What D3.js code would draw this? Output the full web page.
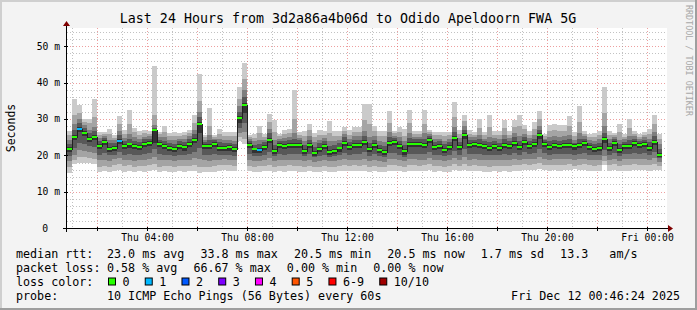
<!DOCTYPE html>
<html lang="en">
<head>
<meta charset="UTF-8">
<title>Last 24 Hours from 3d2a86a4b06d to Odido Apeldoorn FWA 5G</title>
<script src="https://d3js.org/d3.v7.min.js"></script>
<style>
  body { margin: 0; background: #f3f3f3; }
  svg { display: block; font-family: "DejaVu Sans Mono", monospace; }
  .grid-minor { stroke: rgba(143,143,143,0.55); stroke-width: 1; stroke-dasharray: 1,2; }
  .grid-major { stroke: rgba(222,80,80,0.55); stroke-width: 1; stroke-dasharray: 1,2; }
  .axis-line { stroke: #000; stroke-width: 1; }
  .tick-label { font-size: 9.7px; fill: #000; }
  .legend { font-size: 11.7px; fill: #000; white-space: pre; }
</style>
</head>
<body>
<svg width="697" height="310"></svg>
<script>
// median rtt per 12 minute step (ms)
const median = [
  21.7, 25.1, 27.3, 26.2, 24.5, 25.0, 22.5, 23.7, 21.8, 22.1,
  24.0, 22.5, 23.0, 22.5, 22.3, 23.1, 23.4, 26.9, 23.1, 22.5,
  22.0, 21.7, 22.5, 22.2, 23.1, 24.2, 28.7, 22.5, 22.5, 23.1,
  22.1, 22.1, 22.2, 21.7, 30.3, 33.9, 22.9, 21.6, 21.5, 22.3,
  24.3, 21.3, 22.9, 22.6, 22.9, 22.9, 22.9, 21.3, 22.8, 20.7,
  21.8, 22.6, 21.0, 21.3, 21.9, 23.5, 22.3, 22.9, 22.9, 23.7,
  21.8, 22.8, 21.4, 21.0, 23.4, 23.6, 22.5, 21.1, 23.1, 23.1,
  23.1, 22.9, 24.2, 22.3, 22.5, 21.5, 22.3, 24.7, 22.3, 25.5,
  22.9, 23.1, 22.8, 22.5, 22.1, 22.5, 22.1, 22.8, 22.5, 23.4,
  22.3, 23.6, 22.5, 23.1, 25.5, 23.1, 22.3, 22.8, 22.5, 22.8,
  22.8, 22.5, 22.8, 23.4, 22.3, 21.8, 22.1, 24.6, 22.1, 23.4,
  21.4, 22.5, 22.5, 23.4, 22.8, 23.1, 22.1, 23.7, 20.2
];

// lost pings (out of 10) per step
const lossCount = [
  0, 0, 1, 0, 0, 0, 0, 0, 0, 0,
  1, 0, 0, 0, 0, 0, 0, 0, 0, 0,
  0, 0, 0, 0, 0, 0, 0, 0, 0, 0,
  0, 0, 0, 0, 0, 0, 0, 0, 1, 0,
  0, 0, 0, 0, 0, 0, 0, 0, 0, 0,
  0, 0, 0, 0, 0, 0, 0, 0, 0, 0,
  0, 0, 0, 0, 0, 0, 0, 0, 0, 0,
  0, 0, 0, 0, 0, 0, 0, 0, 0, 0,
  0, 0, 0, 0, 0, 0, 0, 0, 0, 0,
  0, 0, 0, 0, 0, 0, 0, 0, 0, 0,
  0, 0, 0, 0, 0, 0, 0, 0, 0, 0,
  0, 0, 0, 0, 0, 0, 0, 0, 0
];

// sorted ping times per step (ms), used for the smoke
const pings = [
  [15.2,16.8,18.4,19.8,20.8,22.2,23.2,24.2,25.6,26.6],
  [17.6,18.8,20.2,22.0,24.2,25.6,27.0,28.5,31.0,35.4],
  [18.0,19.6,21.5,23.5,26.3,27.8,29.0,30.0,31.5,33.8],
  [18.0,19.4,21.2,23.2,25.3,26.7,27.6,28.4,29.2,29.9],
  [17.8,19.2,20.8,22.5,23.6,25.0,26.0,27.0,28.8,29.9],
  [17.5,19.0,20.6,22.4,24.1,25.5,26.6,27.8,30.5,35.4],
  [15.4,16.9,18.6,20.2,21.6,23.0,23.9,24.8,25.6,26.5],
  [15.6,17.1,18.8,20.6,22.8,24.2,24.8,25.3,25.9,26.5],
  [15.3,16.8,18.5,20.0,20.9,22.3,23.3,24.3,25.8,27.2],
  [15.8,17.2,18.9,20.2,21.2,22.6,23.4,24.1,24.8,25.5],
  [16.0,17.6,19.2,21.0,23.1,24.5,25.6,26.8,28.6,30.8],
  [15.5,17.0,18.6,20.1,21.6,23.0,23.9,24.8,25.8,26.9],
  [15.6,17.2,18.8,20.4,22.1,23.5,24.6,25.8,28.5,32.4],
  [15.4,16.9,18.5,20.1,21.6,23.0,24.0,25.0,26.3,27.6],
  [15.6,17.0,18.7,20.1,21.4,22.8,23.7,24.6,25.6,26.6],
  [15.5,17.0,18.8,20.4,22.2,23.6,24.4,25.1,26.0,26.9],
  [15.7,17.2,18.9,20.6,22.5,23.9,24.6,25.2,25.9,26.6],
  [16.0,17.6,19.5,21.6,23.3,27.2,27.4,28.2,31.0,44.6],
  [15.4,16.9,18.6,20.3,22.2,23.6,24.3,25.0,25.8,26.5],
  [15.6,17.1,18.7,20.2,21.6,23.0,24.0,25.0,26.5,28.0],
  [15.5,17.0,18.6,20.0,21.1,22.5,23.4,24.3,25.2,26.2],
  [15.4,16.9,18.5,19.9,20.8,22.2,23.2,24.2,25.4,26.5],
  [15.6,17.1,18.7,20.2,21.6,23.0,23.8,24.6,25.4,26.2],
  [15.5,17.0,18.6,20.0,21.3,22.7,23.6,24.5,25.5,26.5],
  [15.6,17.1,18.8,20.4,22.2,23.6,24.4,25.2,26.0,26.9],
  [15.8,17.4,19.2,20.9,23.3,24.7,25.8,27.0,29.0,31.0],
  [15.0,16.8,19.0,22.0,26.0,29.2,30.5,32.0,35.0,42.3],
  [15.4,16.9,18.6,20.1,21.6,23.0,23.7,24.3,24.9,25.5],
  [15.3,16.8,18.5,20.1,21.6,23.0,24.2,25.5,28.0,32.9],
  [15.5,17.0,18.7,20.3,22.2,23.6,24.1,24.6,25.0,25.5],
  [15.8,17.2,18.8,20.1,21.2,22.6,23.6,24.6,25.9,27.2],
  [15.9,17.3,18.9,20.2,21.2,22.6,23.4,24.3,25.3,26.3],
  [15.8,17.2,18.8,20.1,21.3,22.7,23.5,24.3,25.3,26.3],
  [15.6,17.0,18.6,19.9,20.8,22.2,23.1,24.0,25.2,26.3],
  [24.0,25.0,26.2,27.5,29.0,30.8,32.0,33.5,35.5,38.8],
  [23.2,24.5,26.5,29.0,31.5,34.4,36.0,38.0,41.0,45.5],
  [15.6,17.1,18.7,20.3,22.0,23.4,23.9,24.4,25.0,25.5],
  [15.4,16.8,18.4,19.8,20.7,22.1,22.9,23.8,24.8,25.8],
  [15.5,17.0,18.5,19.8,20.6,22.0,23.0,24.2,26.0,28.0],
  [15.6,17.1,18.7,20.1,21.4,22.8,23.6,24.3,25.0,25.8],
  [15.8,17.4,19.2,21.0,23.4,24.8,26.0,27.2,29.2,31.3],
  [15.5,16.9,18.5,19.7,20.4,21.8,22.9,24.1,26.5,29.7],
  [15.6,17.1,18.8,20.3,22.0,23.4,24.0,24.6,25.2,25.8],
  [15.5,17.0,18.7,20.2,21.7,23.1,23.9,24.8,25.8,26.9],
  [15.7,17.2,18.8,20.3,22.0,23.4,24.2,25.0,26.0,27.1],
  [15.6,17.1,18.8,20.3,22.0,23.4,24.6,26.0,30.0,37.9],
  [15.5,17.0,18.7,20.3,22.0,23.4,24.1,24.8,25.6,26.5],
  [15.4,16.8,18.4,19.7,20.4,21.8,22.8,23.8,25.2,26.7],
  [15.6,17.1,18.8,20.3,21.9,23.3,24.3,25.3,26.9,28.6],
  [15.3,16.7,18.2,19.4,19.8,21.2,22.4,23.6,24.9,26.2],
  [15.5,16.9,18.5,19.9,20.9,22.3,23.3,24.3,25.6,26.9],
  [15.6,17.1,18.7,20.2,21.7,23.1,23.9,24.7,25.7,26.7],
  [15.4,16.8,18.3,19.6,20.1,21.5,22.6,23.8,26.2,29.4],
  [15.5,16.9,18.4,19.7,20.4,21.8,22.8,23.8,25.2,26.7],
  [15.6,17.0,18.6,20.0,21.0,22.4,23.3,24.2,25.4,26.7],
  [15.7,17.3,19.0,20.6,22.6,24.0,24.9,25.8,26.8,27.8],
  [15.6,17.1,18.7,20.1,21.4,22.8,23.7,24.6,25.7,26.9],
  [15.7,17.2,18.8,20.3,22.0,23.4,24.3,25.2,26.5,27.8],
  [15.6,17.1,18.8,20.3,22.0,23.4,24.3,25.2,26.4,27.7],
  [15.8,17.4,19.1,20.8,22.8,24.2,25.4,26.8,29.6,34.0],
  [15.5,16.9,18.5,19.9,20.9,22.3,23.5,25.0,28.5,34.1],
  [15.6,17.1,18.8,20.3,21.9,23.3,24.2,25.2,26.6,28.0],
  [15.4,16.8,18.4,19.7,20.5,21.9,22.9,23.9,25.3,26.7],
  [15.3,16.7,18.2,19.5,20.1,21.5,22.6,23.7,25.2,26.7],
  [15.7,17.3,19.0,20.6,22.5,23.9,25.0,26.3,28.8,32.1],
  [15.8,17.3,19.0,20.7,22.7,24.1,24.7,25.3,26.0,26.7],
  [15.6,17.1,18.7,20.2,21.6,23.0,24.0,25.0,26.4,27.8],
  [15.4,16.8,18.3,19.6,20.2,21.6,22.7,23.8,25.4,27.1],
  [15.6,17.2,18.9,20.4,22.2,23.6,24.8,26.2,28.8,32.4],
  [15.7,17.2,18.9,20.4,22.2,23.6,24.4,25.1,25.9,26.7],
  [15.6,17.1,18.8,20.4,22.2,23.6,24.4,25.1,25.9,26.7],
  [15.7,17.2,18.8,20.3,22.0,23.4,24.6,26.0,28.6,32.4],
  [15.9,17.5,19.2,21.0,23.3,24.7,25.3,25.8,26.3,26.9],
  [15.5,17.0,18.6,20.1,21.4,22.8,23.7,24.6,25.5,26.5],
  [15.6,17.1,18.7,20.2,21.6,23.0,23.8,24.6,25.5,26.5],
  [15.4,16.8,18.4,19.8,20.6,22.0,23.0,24.0,25.2,26.5],
  [15.5,17.0,18.6,20.1,21.4,22.8,23.7,24.6,25.5,26.5],
  [15.9,17.5,19.3,21.2,23.8,25.2,26.4,27.8,30.5,34.7],
  [15.6,17.1,18.7,20.1,21.4,22.8,23.7,24.7,25.8,26.9],
  [16.0,17.7,19.6,21.6,24.6,26.0,27.0,28.0,29.4,31.0],
  [15.6,17.1,18.8,20.3,22.0,23.4,24.2,25.0,25.9,26.9],
  [15.7,17.2,18.9,20.4,22.2,23.6,24.3,25.0,25.7,26.5],
  [15.6,17.1,18.8,20.3,21.9,23.3,24.4,25.6,27.6,29.9],
  [15.5,17.0,18.7,20.2,21.6,23.0,23.8,24.6,25.5,26.5],
  [15.5,16.9,18.6,20.0,21.2,22.6,23.7,25.0,27.8,31.0],
  [15.6,17.1,18.7,20.2,21.6,23.0,23.8,24.7,25.6,26.6],
  [15.5,17.0,18.6,20.0,21.2,22.6,23.5,24.5,25.6,26.7],
  [15.6,17.1,18.8,20.3,21.9,23.3,24.4,25.6,27.5,29.7],
  [15.5,17.0,18.7,20.2,21.6,23.0,23.8,24.7,25.7,26.7],
  [15.7,17.3,19.0,20.6,22.5,23.9,24.9,26.0,27.8,29.7],
  [15.8,17.2,18.8,20.2,21.4,22.8,23.9,25.2,28.0,31.0],
  [16.0,17.5,19.1,20.8,22.7,24.1,25.0,25.9,27.1,28.3],
  [15.9,17.3,18.9,20.3,21.6,23.0,23.8,24.7,25.7,26.7],
  [16.0,17.5,19.1,20.6,22.2,23.6,24.6,25.7,27.3,29.1],
  [16.3,17.8,19.6,21.6,24.6,26.0,27.0,28.0,30.0,32.1],
  [15.9,17.4,19.0,20.5,22.2,23.6,24.1,24.6,25.2,25.8],
  [15.8,17.2,18.8,20.2,21.4,22.8,23.8,24.9,26.6,28.3],
  [15.9,17.4,19.0,20.4,21.9,23.3,24.3,25.3,26.9,28.6],
  [15.8,17.3,18.9,20.3,21.6,23.0,24.0,25.0,26.6,28.3],
  [15.9,17.4,19.0,20.4,21.9,23.3,24.2,25.2,26.7,28.3],
  [16.0,17.5,19.0,20.4,21.9,23.3,24.4,25.6,28.0,30.8],
  [16.1,17.0,18.7,20.0,21.4,23.1,23.3,24.2,25.4,26.3],
  [15.9,17.4,19.0,20.4,21.9,23.3,24.6,26.0,29.2,33.6],
  [16.0,17.5,19.1,20.6,22.5,23.9,24.6,25.2,25.9,26.7],
  [15.8,17.2,18.8,20.2,21.4,22.8,23.5,24.2,25.0,25.8],
  [15.7,17.1,18.6,20.0,20.9,22.3,23.1,24.0,25.0,26.0],
  [15.8,17.2,18.8,20.1,21.2,22.6,23.5,24.4,25.5,26.7],
  [17.3,18.4,19.8,21.4,23.3,25.0,26.0,28.0,31.5,38.8],
  [15.8,17.2,18.8,20.1,21.2,22.6,23.5,24.4,25.5,26.7],
  [16.0,17.5,19.1,20.6,22.5,23.9,24.4,24.9,25.5,26.2],
  [15.6,17.0,18.5,19.8,20.5,21.9,23.0,24.2,26.3,28.6],
  [15.8,17.3,18.9,20.3,21.6,23.0,23.7,24.4,25.1,25.8],
  [15.8,17.3,18.9,20.3,21.6,23.0,24.1,25.3,27.5,29.9],
  [16.0,17.5,19.1,20.6,22.5,23.9,24.6,25.2,25.9,26.7],
  [15.9,17.4,19.0,20.4,21.9,23.3,23.9,24.5,25.1,25.8],
  [15.9,17.4,19.0,20.5,22.2,23.6,24.3,24.9,25.7,26.5],
  [15.8,17.2,18.8,20.1,21.2,22.6,23.6,24.6,25.8,27.1],
  [16.0,17.6,19.2,20.8,22.8,24.2,25.3,26.5,28.6,31.0],
  [15.9,17.0,18.2,19.2,19.6,20.7,21.8,23.0,24.4,25.8]
];

const yTicks = [0, 10, 20, 30, 40, 50];
const lossLabels = ["0", "1", "2", "3", "4", "5", "6-9", "10/10"];
const lossColors = ["#26ff00", "#00b8ff", "#0059ff", "#7e00ff", "#ff00ff", "#ff5500", "#ff0000", "#a10000"];
const smokeGreys = ["#cacaca", "#a4a4a4", "#7e7e7e", "#585858", "#323232"];
const rttStats = ["23.0 ms avg", "33.8 ms max", "20.5 ms min", "20.5 ms now", "1.7 ms sd", "13.3   am/s"];
const lossStats = ["0.58 % avg", "66.67 % max", "0.00 % min", "0.00 % now"];

const startTime = new Date(2025, 11, 11, 0, 46, 24);
const endTime = new Date(2025, 11, 12, 0, 46, 24);
const firstStep = new Date(2025, 11, 11, 0, 48, 0);
const stepMs = 12 * 60 * 1000;

const svg = d3.select("svg");
const W = 697, H = 310;
const plotL = 67, plotR = 667, plotT = 28, plotB = 228;

const x = d3.scaleTime().domain([startTime, endTime]).range([plotL, plotR]);
const y = d3.scaleLinear().domain([0, 55]).range([plotB, plotT]);
const px = t => Math.floor(x(t));

// background + 3d frame
svg.append("rect").attr("width", W).attr("height", H).attr("fill", "#f3f3f3");
svg.append("path").attr("d", `M1,${H} V1 H${W}`).attr("stroke", "#cfcfcf").attr("stroke-width", 2).attr("fill", "none");
svg.append("path").attr("d", `M0,${H - 1} H${W - 1} V0`).attr("stroke", "#9e9e9e").attr("stroke-width", 2).attr("fill", "none");

svg.append("rect").attr("x", plotL).attr("y", plotT).attr("width", plotR - plotL).attr("height", plotB - plotT).attr("fill", "#fff");

// grid
const gGrid = svg.append("g").attr("shape-rendering", "crispEdges");
d3.range(2, 55, 2).forEach(v => {
  const yy = Math.round(y(v)) + 0.5;
  gGrid.append("line")
    .attr("class", v % 10 === 0 ? "grid-major" : "grid-minor")
    .attr("x1", plotL).attr("x2", plotR).attr("y1", yy).attr("y2", yy);
});
d3.timeHour.every(1).range(startTime, endTime).forEach(t => {
  const xx = px(t) + 0.5;
  gGrid.append("line")
    .attr("class", t.getHours() % 2 === 0 ? "grid-major" : "grid-minor")
    .attr("x1", xx).attr("x2", xx).attr("y1", plotT).attr("y2", plotB);
});

// smoke
const steps = pings.map((p, i) => ({
  t0: new Date(firstStep.getTime() + i * stepMs),
  t1: new Date(firstStep.getTime() + (i + 1) * stepMs),
  p, med: median[i], loss: lossCount[i]
}));

const gSmoke = svg.append("g").attr("shape-rendering", "crispEdges");
smokeGreys.forEach((c, k) => {
  gSmoke.selectAll(null)
    .data(steps)
    .join("rect")
    .attr("x", d => px(d.t0))
    .attr("width", d => Math.min(px(d.t1), plotR) - px(d.t0))
    .attr("y", d => Math.round(y(d.p[9 - k])))
    .attr("height", d => Math.max(1, Math.round(y(d.p[k])) - Math.round(y(d.p[9 - k]))))
    .attr("fill", c);
});

// median step line
const medPts = steps.map(d => [px(d.t0), Math.round(y(d.med)) + 0.5]);
medPts.push([px(steps[steps.length - 1].t1), medPts[medPts.length - 1][1]]);
svg.append("path")
  .attr("d", d3.line().curve(d3.curveStepAfter)(medPts))
  .attr("fill", "none").attr("stroke", "#202020").attr("stroke-width", 1)
  .attr("shape-rendering", "crispEdges");

const lossIdx = n => n <= 5 ? n : (n < 10 ? 6 : 7);
svg.append("g").attr("shape-rendering", "crispEdges")
  .selectAll("rect")
  .data(steps)
  .join("rect")
  .attr("x", d => px(d.t0))
  .attr("width", d => px(d.t1) - px(d.t0))
  .attr("y", d => Math.round(y(d.med)) - 1)
  .attr("height", 2)
  .attr("fill", d => lossColors[lossIdx(d.loss)]);

// axes
const gAxis = svg.append("g").attr("shape-rendering", "crispEdges");
gAxis.append("line").attr("class", "axis-line").attr("x1", plotL - 4).attr("x2", plotR + 1).attr("y1", plotB + 0.5).attr("y2", plotB + 0.5);
gAxis.append("line").attr("class", "axis-line").attr("x1", plotL - 0.5).attr("x2", plotL - 0.5).attr("y1", plotB + 4).attr("y2", plotT - 2);
yTicks.forEach(v => {
  const yy = Math.round(y(v)) + 0.5;
  gAxis.append("line").attr("class", "axis-line").attr("x1", plotL - 3).attr("x2", plotL + 1).attr("y1", yy).attr("y2", yy);
});
d3.timeHour.every(2).range(startTime, endTime).forEach(t => {
  const xx = px(t) + 0.5;
  gAxis.append("line").attr("class", "axis-line").attr("x1", xx).attr("x2", xx).attr("y1", plotB - 1).attr("y2", plotB + 3);
});
svg.append("path").attr("d", `M${plotR + 1},${plotB - 3} L${plotR + 6},${plotB + 0.5} L${plotR + 1},${plotB + 4} Z`).attr("fill", "#7f0000");
svg.append("path").attr("d", `M${plotL - 4},${plotT - 2} L${plotL - 0.5},${plotT - 7} L${plotL + 3},${plotT - 2} Z`).attr("fill", "#7f0000");

// tick labels
svg.append("g").selectAll("text")
  .data(yTicks)
  .join("text")
  .attr("class", "tick-label")
  .attr("x", d => d === 0 ? 48 : 60)
  .attr("y", d => y(d) + 3.5)
  .attr("text-anchor", "end")
  .text(d => d === 0 ? "0" : `${d} m`);

const fmtTick = d3.timeFormat("%a %H:%M");
svg.append("g").selectAll("text")
  .data(d3.timeHour.every(4).range(startTime, endTime))
  .join("text")
  .attr("class", "tick-label")
  .attr("x", d => px(d) + 0.5)
  .attr("y", 241)
  .attr("text-anchor", "middle")
  .text(d => fmtTick(d));

// titles
svg.append("text").attr("x", 348).attr("y", 23).attr("text-anchor", "middle")
  .attr("font-size", "13.3px").text("Last 24 Hours from 3d2a86a4b06d to Odido Apeldoorn FWA 5G");
svg.append("text").attr("transform", "translate(14.5,128) rotate(-90)").attr("text-anchor", "middle")
  .attr("font-size", "11.5px").text("Seconds");
svg.append("text").attr("transform", "translate(686,5) rotate(90)")
  .attr("font-size", "8.4px").attr("fill", "#a8a8a8").text("RRDTOOL / TOBI OETIKER");

// legend
const charW = 7.04;
const rowY = [257.5, 271.5, 285.5, 299.5];
const legendRow = (label, items, yy) => {
  svg.append("text").attr("class", "legend").attr("x", 16).attr("y", yy).text(label);
  let cx = 107;
  items.forEach(s => {
    svg.append("text").attr("class", "legend").attr("x", cx).attr("y", yy).text(s);
    cx += s.length * charW + 16;
  });
};
legendRow("median rtt:", rttStats, rowY[0]);
legendRow("packet loss:", lossStats, rowY[1]);

svg.append("text").attr("class", "legend").attr("x", 16).attr("y", rowY[2]).text("loss color:");
let bx = 108;
lossLabels.forEach((lab, i) => {
  svg.append("rect").attr("x", bx + 0.5).attr("y", rowY[2] - 7.5).attr("width", 7).attr("height", 7)
    .attr("fill", lossColors[i]).attr("stroke", "#000").attr("stroke-width", 1);
  svg.append("text").attr("class", "legend").attr("x", bx + 14.5).attr("y", rowY[2]).text(lab);
  bx += 14.5 + lab.length * charW + 15.2;
});

svg.append("text").attr("class", "legend").attr("x", 16).attr("y", rowY[3]).text("probe:");
svg.append("text").attr("class", "legend").attr("x", 107).attr("y", rowY[3]).text("10 ICMP Echo Pings (56 Bytes) every 60s");
svg.append("text").attr("class", "legend").attr("x", 680).attr("y", rowY[3]).attr("text-anchor", "end").text("Fri Dec 12 00:46:24 2025");
</script>
</body>
</html>
